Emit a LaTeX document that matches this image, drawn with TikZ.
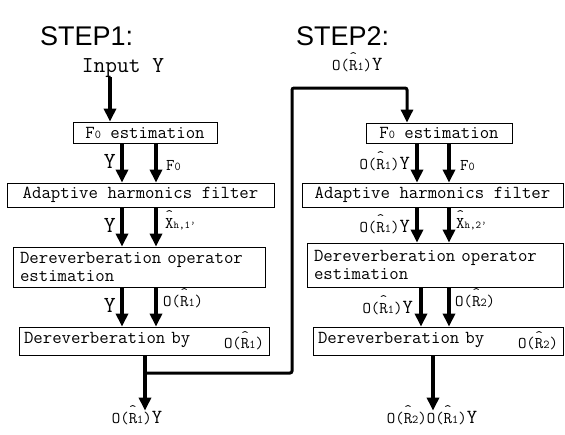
\documentclass[tikz,border=0pt]{standalone}
\usepackage{fontspec}
\newfontfamily\headfont{Liberation Sans}
\usetikzlibrary{arrows.meta}

% typewriter text at a given size, small index digit, hatted symbols
\newcommand\mono[1]{\ttfamily\fontsize{#1}{#1}\selectfont}
\newcommand\idx[1]{{\fontsize{12}{12}\selectfont #1}}
\newcommand\hatted[1]{\ooalign{#1\cr\hidewidth\raisebox{0.5em}{\fontsize{14.5}{14.5}\selectfont\textasciicircum}\hidewidth\cr}}
\newcommand\OR[1]{O(\hatted{R}\idx{#1})}
\newcommand\sigY{{\fontsize{20}{20}\selectfont Y}}
\newcommand\bigY{{\mono{23}Y}}

\begin{document}
\begin{tikzpicture}[x=1pt,y=-1pt,
  box/.style={draw, line width=0.8pt, inner sep=0pt, font=\mono{18.3}},
  arr/.style={line width=3.5pt, -{Triangle[length=13pt,width=12pt]}},
  fbarr/.style={line width=3pt, rounded corners=2pt, -{Triangle[length=13pt,width=12pt]}},
  lbl/.style={font=\mono{16.4}, inner sep=0pt},
  head/.style={font=\headfont\fontsize{27}{27}\selectfont, inner sep=0pt}]
\useasboundingbox (0,0) rectangle (565,434);

% headings
\node[head, anchor=base west] (h1) at (40,45) {STEP1:};
\node[head, anchor=base west] (h2) at (296,45) {STEP2:};

% ---- step 1 ----
\node[anchor=base, inner sep=0pt, font=\mono{22.8}] (in) at (123,72) {Input Y};
\node[box, minimum width=144pt, minimum height=21pt] (fa) at (145,132.5) {F\idx{0} estimation};
\node[box, minimum width=267pt, minimum height=24pt] (ha) at (140.5,195) {Adaptive harmonics filter};
\node[box, minimum width=252pt, minimum height=40pt, text width=238pt, align=left,
      font=\ttfamily\fontsize{18.3}{18}\selectfont] (ea) at (139,267)
  {Dereverberation operator\\estimation};
\node[box, minimum width=250pt, minimum height=28pt, text width=240pt] (da) at (144,341)
  {Dereverberation by\hfill\raisebox{-5pt}{\mono{16.4}\OR{1}}};
\node[lbl, anchor=base] (oa) at (137,423) {\OR{1}\sigY};

\coordinate (ia) at (110,0);
\coordinate (la) at (122,0);
\coordinate (ra) at (156,0);
\coordinate (ma) at (145,0);

\draw[arr] (in.south -| ia) -- (fa.north -| ia);
\draw[arr] (fa.south -| la) -- (ha.north -| la);
\draw[arr] (fa.south -| ra) -- (ha.north -| ra);
\draw[arr] (ha.south -| la) -- (ea.north -| la);
\draw[arr] (ha.south -| ra) -- (ea.north -| ra);
\draw[arr] (ea.south -| la) -- (da.north -| la);
\draw[arr] (ea.south -| ra) -- (da.north -| ra);
\draw[arr] (da.south -| ma) -- (oa.north -| ma);

\node[anchor=base east, inner sep=0pt] (ya1) at (116,168) {\bigY};
\node[lbl, anchor=base west] (fa1) at (166,170) {F\idx{0}};
\node[anchor=base east, inner sep=0pt] (ya2) at (116,232) {\bigY};
\node[lbl, anchor=base west] (xa2) at (165,228) {\hatted{X}{\fontsize{10.5}{10.5}\selectfont h,1’}};
\node[anchor=base east, inner sep=0pt] (ya3) at (116,312) {\bigY};
\node[lbl, anchor=base west] (oa3) at (163,306) {\OR{1}};

% ---- step 2 ----
\node[lbl, anchor=base west] (tb) at (332,70) {\OR{1}\sigY};
\node[box, minimum width=146pt, minimum height=20pt] (fb) at (439,133) {F\idx{0} estimation};
\node[box, minimum width=261pt, minimum height=24pt] (hb) at (432.5,195) {Adaptive harmonics filter};
\node[box, minimum width=256pt, minimum height=44pt, text width=242pt, align=left,
      font=\ttfamily\fontsize{18.3}{18}\selectfont] (eb) at (435,265)
  {Dereverberation operator\\estimation};
\node[box, minimum width=250pt, minimum height=28pt, text width=240pt] (db) at (438,341)
  {Dereverberation by\hfill\raisebox{-5pt}{\mono{16.4}\OR{2}}};
\node[lbl, anchor=base] (ob) at (432,423) {O(\hatted{R}\idx{2})O(\hatted{R}\idx{1})\sigY};

\coordinate (ib) at (407,0);
\coordinate (lb) at (417,0);
\coordinate (lc) at (421,0);
\coordinate (rb) at (449,0);
\coordinate (mb) at (433,0);

\draw[arr] (fb.south -| lb) -- (hb.north -| lb);
\draw[arr] (fb.south -| rb) -- (hb.north -| rb);
\draw[arr] (hb.south -| lb) -- (eb.north -| lb);
\draw[arr] (hb.south -| rb) -- (eb.north -| rb);
\draw[arr] (eb.south -| lc) -- (db.north -| lc);
\draw[arr] (eb.south -| rb) -- (db.north -| rb);
\draw[arr] (db.south -| mb) -- (ob.north -| mb);

\node[lbl, anchor=base east] (yb1) at (410,169) {\OR{1}\sigY};
\node[lbl, anchor=base west] (fb1) at (460,170) {F\idx{0}};
\node[lbl, anchor=base east] (yb2) at (410,232) {\OR{1}\sigY};
\node[lbl, anchor=base west] (xb2) at (456,228) {\hatted{X}{\fontsize{10.5}{10.5}\selectfont h,2’}};
\node[lbl, anchor=base east] (yb3) at (413,313) {\OR{1}\sigY};
\node[lbl, anchor=base west] (ob3) at (455,306) {\OR{2}};

% feedback of the first result into step 2
\coordinate (fork) at (145,373);
\coordinate (turn) at (292,88);
\draw[fbarr] (fork) -| (turn) -| (fb.north -| ib);
\end{tikzpicture}
\end{document}
